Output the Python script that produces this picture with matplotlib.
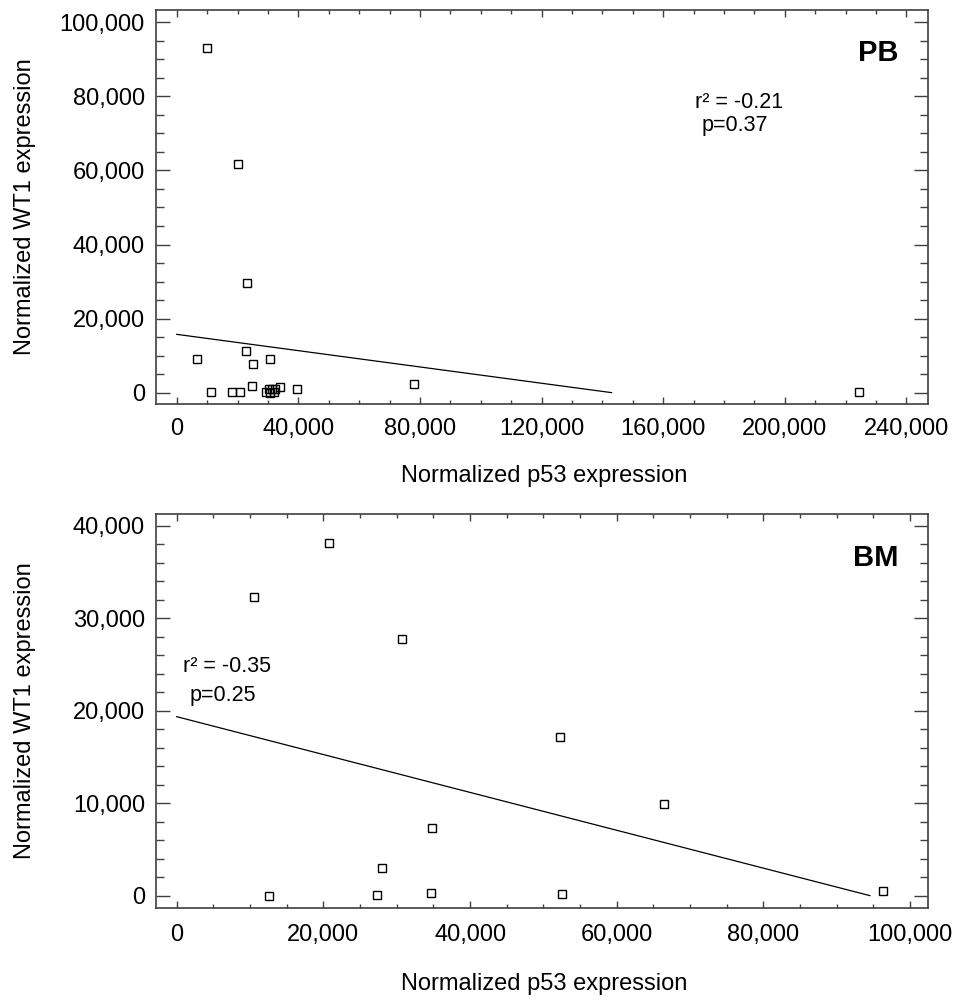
import matplotlib
matplotlib.use("Agg")
import matplotlib.pyplot as plt
from matplotlib.ticker import MultipleLocator, FuncFormatter
import numpy as np

plt.rcParams['font.family'] = ['Liberation Sans', 'DejaVu Sans']

# peripheral blood (PB)
pb_p53 = [9900, 20300, 23100, 6600, 11400, 18300, 20900, 22700, 24800, 25200,
          29300, 30300, 30800, 31300, 31900, 32300, 30700, 33900, 39700, 78200, 224500]
pb_wt1 = [93000, 61700, 29500, 9100, 100, 100, 100, 11200, 1800, 7750,
          100, 1000, 0, 1000, 100, 1000, 9100, 1450, 900, 2250, 300]
pb_fit = (15750, -0.11)      # intercept, slope
pb_fit_end = 143000
pb_stats = ["r² = -0.21", "p=0.37"]

# bone marrow (BM)
bm_p53 = [10600, 20800, 30700, 52300, 66500, 34800, 28000, 12600, 27300, 34700, 52500, 96300]
bm_wt1 = [32300, 38100, 27800, 17100, 9950, 7300, 3000, 0, 100, 300, 200, 550]
bm_fit = (19350, -0.2047)
bm_fit_end = 94500
bm_stats = ["r² = -0.35", "p=0.25"]

fig = plt.figure(figsize=(9.62, 10), dpi=100)
ax1 = fig.add_axes([0.1622, 0.596, 0.8022, 0.394])
ax2 = fig.add_axes([0.1622, 0.0923, 0.8022, 0.3937])

fmt = FuncFormatter(lambda v, pos: f"{int(round(v)):,}")
spine_col = '#404040'


def draw_panel(ax, x, y, fit, fit_end, stats, tag, stat_pos, xmaj, xmin_, ymaj, ymin_, xpad):
    ax.plot(x, y, 's', ms=5.5, mfc='none', mec='black', mew=1.0, ls='none')
    xs = np.array([0, fit_end])
    ax.plot(xs, fit[0] + fit[1] * xs, color='black', lw=0.9)
    ax.xaxis.set_major_locator(MultipleLocator(xmaj))
    ax.xaxis.set_minor_locator(MultipleLocator(xmin_))
    ax.yaxis.set_major_locator(MultipleLocator(ymaj))
    ax.yaxis.set_minor_locator(MultipleLocator(ymin_))
    ax.xaxis.set_major_formatter(fmt)
    ax.yaxis.set_major_formatter(fmt)
    for s in ax.spines.values():
        s.set_color(spine_col)
        s.set_linewidth(1.2)
    ax.tick_params(axis='x', which='major', direction='in', top=True, length=5,
                   width=1, color=spine_col, labelsize=17, pad=xpad)
    ax.tick_params(axis='x', which='minor', direction='in', top=True, length=3,
                   width=1, color=spine_col)
    ax.tick_params(axis='y', which='major', direction='in', right=True, length=10,
                   width=1, color=spine_col, labelsize=17, pad=8)
    ax.tick_params(axis='y', which='minor', direction='in', right=True, length=6,
                   width=1, color=spine_col)
    ax.set_xlabel("Normalized p53 expression", fontsize=17)
    ax.set_ylabel("Normalized WT1 expression", fontsize=17)
    ax.yaxis.set_label_coords(-0.1555, 0.5)
    ax.text(0.9615, tag[1], tag[0], transform=ax.transAxes, ha='right', va='center',
            fontsize=21, fontweight='bold')
    ax.text(stat_pos[0], stat_pos[1], stats[0], transform=ax.transAxes,
            ha='center', va='center', fontsize=15.5)
    ax.text(stat_pos[0] - 0.005, stat_pos[2], stats[1], transform=ax.transAxes,
            ha='center', va='center', fontsize=15.5)


draw_panel(ax1, pb_p53, pb_wt1, pb_fit, pb_fit_end, pb_stats, ("PB", 0.891),
           (0.7555, 0.766, 0.708), 40000, 10000, 20000, 5000, 10)
ax1.set_xlim(-6800, 247000)
ax1.set_ylim(-3050, 103300)
ax1.xaxis.set_label_coords(0.503, -0.155)
ax1.xaxis.label.set_va('top')

draw_panel(ax2, bm_p53, bm_wt1, bm_fit, bm_fit_end, bm_stats, ("BM", 0.8875),
           (0.092, 0.612, 0.540), 20000, 5000, 10000, 2000, 12)
ax2.set_xlim(-2820, 102400)
ax2.set_ylim(-1300, 41260)
ax2.xaxis.set_label_coords(0.503, -0.166)
ax2.xaxis.label.set_va('top')

fig.savefig("out.png", dpi=100, facecolor='white')
